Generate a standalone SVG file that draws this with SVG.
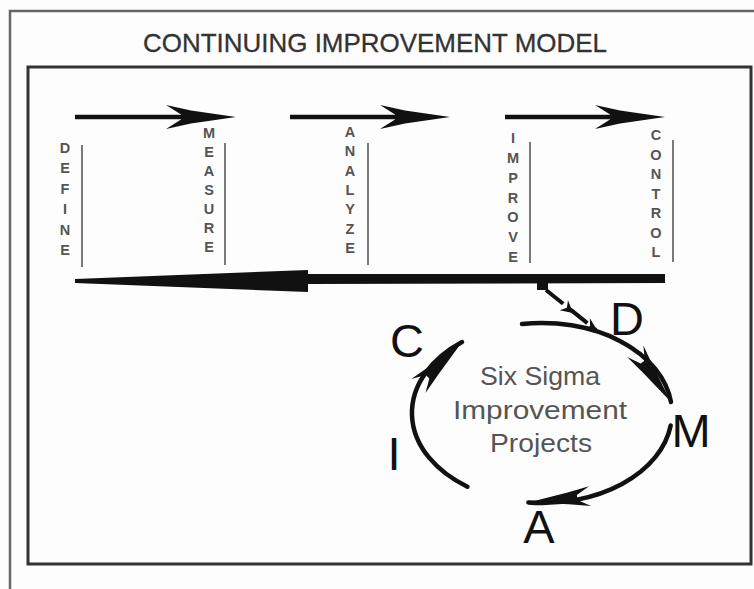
<svg xmlns="http://www.w3.org/2000/svg" xmlns:xlink="http://www.w3.org/1999/xlink" width="754" height="589" viewBox="0 0 754 589">
  <style>
    .title { font-family: "Liberation Sans", Arial, sans-serif; font-size: 25px; fill: #333; stroke: #333; stroke-width: 0.3; }
    .v { font-family: "Liberation Sans", Arial, sans-serif; font-size: 14.5px; font-weight: bold; fill: #555; text-anchor: middle; }
    .vline { stroke: #7a7a7a; stroke-width: 2; }
    .shaft { stroke: #111; stroke-width: 4.5; fill: none; }
    .arc { stroke: #111; stroke-width: 4.5; fill: none; stroke-linecap: round; }
    .big { font-family: "Liberation Sans", Arial, sans-serif; font-size: 47px; fill: #111; text-anchor: middle; }
    .center { font-family: "Liberation Sans", Arial, sans-serif; font-size: 25px; fill: #555; text-anchor: middle; }
    .head { fill: #111; }
  </style>
  <defs>
    <path id="head" d="M0,0 L-45,-6.5 L-70,-12 L-55,-2.5 L-55,2.5 L-70,12 L-45,6.5 Z"/>
    <path id="chead" d="M0,0 L-40,-6 L-62,-10 L-49,-2.5 L-49,2.5 L-62,10 L-40,6 Z"/>
    <path id="small" d="M0,0 L-12,-6.5 L-8,0 L-12,6.5 Z"/>
  </defs>
  <rect x="0" y="0" width="754" height="589" fill="#fdfdfd"/>
  <g id="frame">
    <path d="M10,589 L10,11 L754,11" fill="none" stroke="#666" stroke-width="2.5"/>
    <rect x="28" y="67" width="723" height="497" fill="none" stroke="#333" stroke-width="3"/>
  </g>
  <g id="title">
    <text class="title" x="143" y="52" textLength="464" lengthAdjust="spacingAndGlyphs">CONTINUING IMPROVEMENT MODEL</text>
  </g>
  <g id="connectors">
    <g id="top-arrows">
      <line class="shaft" x1="75" y1="117" x2="200" y2="117"/>
      <use xlink:href="#head" class="head" transform="translate(236,117)"/>
      <line class="shaft" x1="290" y1="117" x2="414" y2="117"/>
      <use xlink:href="#head" class="head" transform="translate(450,117)"/>
      <line class="shaft" x1="505" y1="117" x2="629" y2="117"/>
      <use xlink:href="#head" class="head" transform="translate(665,117)"/>
    </g>
    <g id="return-arrow">
      <path d="M75,279 L308,270 L308,274 L665,274 L665,283 L308,284 L308,292 L75,283 Z" fill="#111"/>
      <rect x="537" y="282" width="11" height="8" fill="#111"/>
      <path d="M546,290 L596,330" stroke="#111" stroke-width="4" stroke-dasharray="22 9" fill="none"/>
      <use xlink:href="#small" class="head" transform="translate(573,313) rotate(40)"/>
      <use xlink:href="#small" class="head" transform="translate(597,330) rotate(30)"/>
    </g>
    <g id="cycle">
      <path class="arc" d="M522,324 A130,90 0 0 1 671,402"/>
      <use xlink:href="#chead" class="head" transform="translate(671,402) rotate(54.8)"/>
      <path class="arc" d="M670.7,425.5 A130,90 0 0 1 528.4,502.5"/>
      <use xlink:href="#chead" class="head" transform="translate(528.4,502.5) rotate(174.1)"/>
      <path class="arc" d="M467.4,486.7 A130,90 0 0 1 462,342"/>
      <use xlink:href="#chead" class="head" transform="translate(462,342) rotate(-45.3)"/>
    </g>
  </g>
  <g id="define">
    <text class="v"><tspan x="65" y="153">D</tspan><tspan x="65" y="173.4">E</tspan><tspan x="65" y="193.8">F</tspan><tspan x="65" y="214.2">I</tspan><tspan x="65" y="234.6">N</tspan><tspan x="65" y="255">E</tspan></text>
    <line class="vline" x1="82" y1="145" x2="82" y2="267"/>
  </g>
  <g id="measure">
    <text class="v"><tspan x="209" y="138">M</tspan><tspan x="209" y="157">E</tspan><tspan x="209" y="176">A</tspan><tspan x="209" y="195">S</tspan><tspan x="209" y="214">U</tspan><tspan x="209" y="233">R</tspan><tspan x="209" y="252">E</tspan></text>
    <line class="vline" x1="225" y1="143" x2="225" y2="265"/>
  </g>
  <g id="analyze">
    <text class="v"><tspan x="350" y="137">A</tspan><tspan x="350" y="156.3">N</tspan><tspan x="350" y="175.7">A</tspan><tspan x="350" y="195">L</tspan><tspan x="350" y="214.3">Y</tspan><tspan x="350" y="233.7">Z</tspan><tspan x="350" y="253">E</tspan></text>
    <line class="vline" x1="368" y1="143" x2="368" y2="265"/>
  </g>
  <g id="improve">
    <text class="v"><tspan x="513" y="143">I</tspan><tspan x="513" y="162.8">M</tspan><tspan x="513" y="182.7">P</tspan><tspan x="513" y="202.5">R</tspan><tspan x="513" y="222.3">O</tspan><tspan x="513" y="242.2">V</tspan><tspan x="513" y="262">E</tspan></text>
    <line class="vline" x1="530" y1="142" x2="530" y2="263"/>
  </g>
  <g id="control">
    <text class="v"><tspan x="656" y="140">C</tspan><tspan x="656" y="159.5">O</tspan><tspan x="656" y="179">N</tspan><tspan x="656" y="198.5">T</tspan><tspan x="656" y="218">R</tspan><tspan x="656" y="237.5">O</tspan><tspan x="656" y="257">L</tspan></text>
    <line class="vline" x1="673" y1="140" x2="673" y2="262"/>
  </g>
  <g id="six-sigma">
    <text class="center" x="540" y="385" textLength="120" lengthAdjust="spacingAndGlyphs">Six Sigma</text>
    <text class="center" x="540" y="419" textLength="174" lengthAdjust="spacingAndGlyphs">Improvement</text>
    <text class="center" x="541" y="452" textLength="102" lengthAdjust="spacingAndGlyphs">Projects</text>
  </g>
  <g id="D"><text class="big" x="627" y="335">D</text></g>
  <g id="M"><text class="big" x="691" y="447">M</text></g>
  <g id="A"><text class="big" x="539" y="543">A</text></g>
  <g id="I"><text class="big" x="394" y="470">I</text></g>
  <g id="C"><text class="big" x="407" y="357">C</text></g>
</svg>
